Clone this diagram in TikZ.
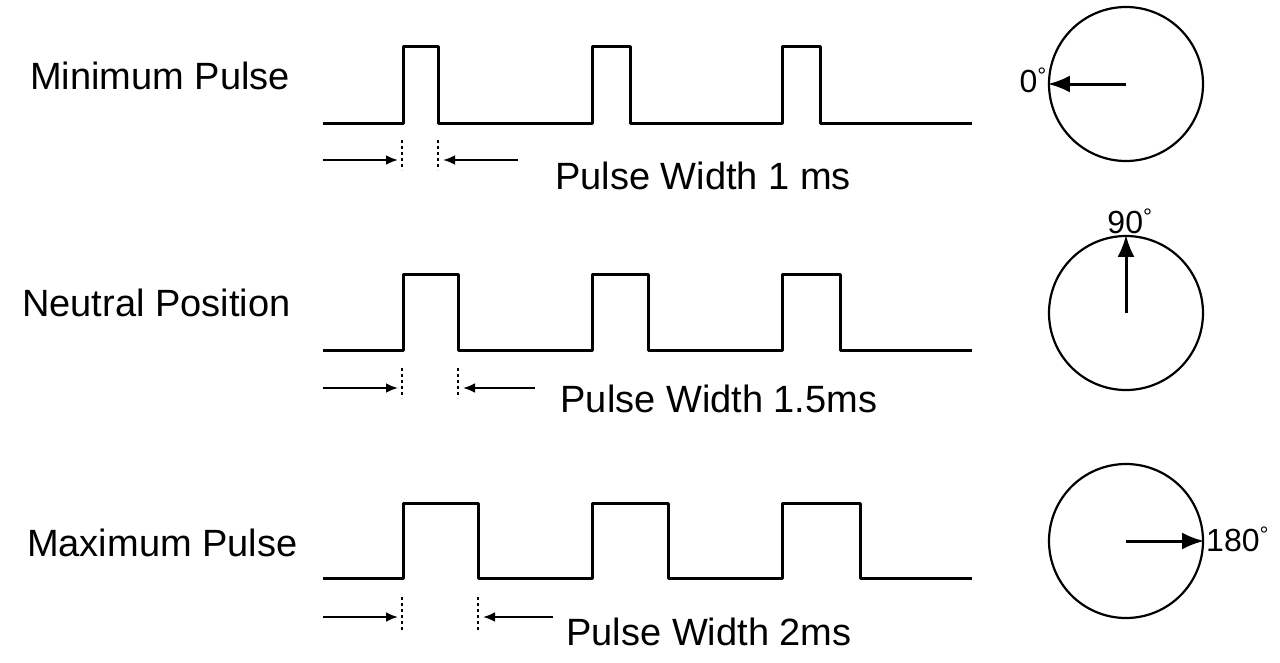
\documentclass[tikz,border=0pt]{standalone}
\usepackage{fontspec}
\setmainfont{Liberation Sans}
\usetikzlibrary{arrows.meta}
\begin{document}
\begin{tikzpicture}[x=1pt,y=-1pt,
  wave/.style={line width=3pt, line join=round},
  dial/.style={circle, draw, line width=2.2pt, minimum size=154pt, inner sep=0pt},
  lbl/.style={font=\fontsize{38}{42}\selectfont, inner sep=0pt},
  deg/.style={font=\fontsize{32}{34}\selectfont, inner sep=0pt},
  dimarrow/.style={line width=2.5pt, -{Latex[length=12pt,width=10pt]}},
  guide/.style={line width=2.2pt, dash pattern=on 3pt off 3pt},
  needle/.style={line width=3pt, -{Latex[length=22pt,width=17pt]}}]
\useasboundingbox (0,0) rectangle (1280,662);

% ---------- Row 1 ----------
\node[lbl, anchor=west] (l1) at (30,76) {Minimum Pulse};
\draw[wave] (323,123) -| (403,46) -| (438,123) -| (592,46) -| (630,123) -| (782,46) -| (820,123) -- (972,123);
\coordinate (d1a) at (323,160); \coordinate (d1b) at (398,160);
\coordinate (d1c) at (518,160); \coordinate (d1d) at (443,160);
\draw[dimarrow] (d1a) -- (d1b);
\draw[dimarrow] (d1c) -- (d1d);
\draw[guide] (402,140) -- (402,170);
\draw[guide] (438,140) -- (438,170);
\node[lbl] (w1) at (703,176) {Pulse Width 1 ms};
\node[dial] (c1) at (1126,84) {};
\draw[needle] (c1.center) -- (c1.west);
\node[deg, anchor=east] (g1) at (1047,80) {0\textsuperscript{°}};

% ---------- Row 2 ----------
\node[lbl, anchor=west] (l2) at (22,303) {Neutral Position};
\draw[wave] (323,350) -| (403,274) -| (458,350) -| (592,274) -| (648,350) -| (782,274) -| (840,350) -- (972,350);
\coordinate (d2a) at (323,388); \coordinate (d2b) at (398,388);
\coordinate (d2c) at (535,388); \coordinate (d2d) at (463,388);
\draw[dimarrow] (d2a) -- (d2b);
\draw[dimarrow] (d2c) -- (d2d);
\draw[guide] (402,368) -- (402,398);
\draw[guide] (458,368) -- (458,398);
\node[lbl] (w2) at (719,399) {Pulse Width 1.5ms};
\node[dial] (c2) at (1126,313) {};
\draw[needle] (c2.center) -- (c2.north);
\node[deg, anchor=south] (g2) at (1130,234) {90\textsuperscript{°}};

% ---------- Row 3 ----------
\node[lbl, anchor=west] (l3) at (27,543) {Maximum Pulse};
\draw[wave] (323,578) -| (403,503) -| (478,578) -| (592,503) -| (668,578) -| (782,503) -| (860,578) -- (972,578);
\coordinate (d3a) at (323,617); \coordinate (d3b) at (398,617);
\coordinate (d3c) at (553,617); \coordinate (d3d) at (483,617);
\draw[dimarrow] (d3a) -- (d3b);
\draw[dimarrow] (d3c) -- (d3d);
\draw[guide] (402,597) -- (402,630);
\draw[guide] (478,597) -- (478,630);
\node[lbl] (w3) at (709,632) {Pulse Width 2ms};
\node[dial] (c3) at (1126,541) {};
\draw[needle] (c3.center) -- (c3.east);
\node[deg, anchor=west] (g3) at (1206,539) {180\textsuperscript{°}};
\end{tikzpicture}
\end{document}
